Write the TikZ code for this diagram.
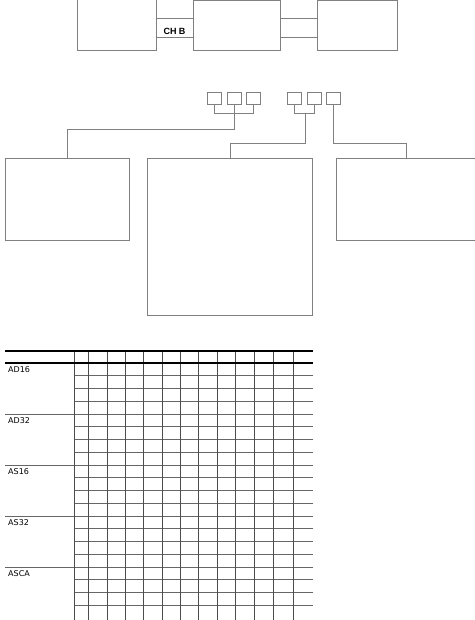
\documentclass[tikz,border=0pt]{standalone}
\usepackage{fontspec}
\setmainfont{DejaVu Sans}
\newfontfamily\chfont{Liberation Sans}
\usetikzlibrary{positioning}
\colorlet{boxc}{black!50}
\colorlet{gridc}{black!70}
\colorlet{rowc}{black!60}

\begin{document}
\begin{tikzpicture}[x=1pt,y=-1pt,
  box/.style={draw=boxc, line width=0.8pt, inner sep=0pt, anchor=north west},
  swbox/.style={box, minimum width=14pt, minimum height=12pt},
  wire/.style={draw=boxc, line width=0.8pt},
  rowlbl/.style={anchor=west, inner sep=0pt, font=\fontsize{8}{9}\selectfont}]
\useasboundingbox (0,0) rectangle (474,620);

% top row
\node[box, minimum width=79pt, minimum height=52pt] (host) at (77,-2) {};
\node[box, minimum width=87pt, minimum height=50pt] (ctrl) at (193,0.5) {};
\node[box, minimum width=80pt, minimum height=50pt] (disk) at (317,0.5) {};
\draw[wire] (host.east |- 0,18) -- (ctrl.west |- 0,18);
\draw[wire] (host.east |- 0,37) -- (ctrl.west |- 0,37);
\draw[wire] (ctrl.east |- 0,18) -- (disk.west |- 0,18);
\draw[wire] (ctrl.east |- 0,37) -- (disk.west |- 0,37);
\node[font=\chfont\bfseries\fontsize{9}{10}\selectfont, inner sep=0pt] (chb) at (174.5,31) {CH B};

% switches
\node[swbox] (sw1) at (207,92) {};
\node[swbox] (sw2) at (227,92) {};
\node[swbox] (sw3) at (246,92) {};
\node[swbox] (sw4) at (287,92) {};
\node[swbox] (sw5) at (307,92) {};
\node[swbox] (sw6) at (326,92) {};

% units
\node[box, minimum width=124pt, minimum height=82pt] (unitl) at (5,158) {};
\node[box, minimum width=165pt, minimum height=157pt] (unitm) at (147,158) {};
\node[box, minimum width=140pt, minimum height=82pt] (unitr) at (336,158) {};

\draw[wire] (sw1.south) -- (sw1.south |- 0,113) -- (sw3.south |- 0,113) -- (sw3.south);
\draw[wire] (sw2.south) -- (sw2.south |- 0,129) -| (unitl.north);
\draw[wire] (sw4.south) -- (sw4.south |- 0,113) -- (sw5.south |- 0,113) -- (sw5.south);
\coordinate (j2) at (305,113);
\draw[wire] (j2) -- (j2 |- 0,143) -| (unitm.north);
\draw[wire] (sw6.south) -- (sw6.south |- 0,143) -| (unitr.north);

% table
\foreach \g in {0,...,4}
  \foreach \r in {1,2,3}
    \draw[rowc, line width=0.7pt] (74,363+51*\g+12.75*\r) -- (313,363+51*\g+12.75*\r);
\foreach \g in {1,...,4}
  \draw[rowc, line width=0.8pt] (5,363+51*\g) -- (313,363+51*\g);
\foreach \x in {74,88,107,125,143,162,180,198,217,235,254,273,293}
  \draw[gridc, line width=0.8pt] (\x,350) -- (\x,621);
\draw[black, line width=1.1pt] (5,351) -- (313,351);
\draw[black, line width=1.1pt] (5,363) -- (313,363);
\node[rowlbl] (ad16) at (8,369.5) {AD16};
\node[rowlbl] (ad32) at (8,420.5) {AD32};
\node[rowlbl] (as16) at (8,471.5) {AS16};
\node[rowlbl] (as32) at (8,522.5) {AS32};
\node[rowlbl] (asca) at (8,573.5) {ASCA};
\end{tikzpicture}
\end{document}
